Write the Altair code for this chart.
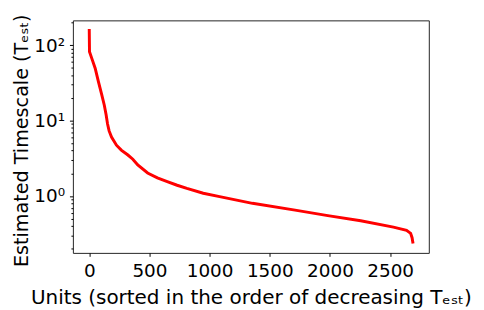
import altair as alt
import pandas as pd

# Units (sorted by decreasing estimated timescale) and the estimated timescale
units = [0, 2, 21, 49, 76, 103, 125, 140, 152, 165, 185, 226, 266, 321, 362,
         403, 485, 566, 648, 730, 811, 947, 1083, 1356, 1710, 1982, 2255, 2527,
         2636, 2670, 2682, 2688]
tscale = [157, 82, 67, 49.5, 33, 22.3, 16.0, 12.0, 9.0, 7.3, 6.05, 4.72, 4.06,
          3.50, 3.08, 2.59, 2.02, 1.74, 1.55, 1.39, 1.26, 1.09, 0.98, 0.80,
          0.65, 0.55, 0.47, 0.387, 0.35, 0.32, 0.28, 0.245]

x_ticks = [0, 500, 1000, 1500, 2000, 2500]
y_major = [1, 10, 100]
y_minor = [0.2, 0.3, 0.4, 0.5, 0.6, 0.7, 0.8, 0.9,
           2, 3, 4, 5, 6, 7, 8, 9,
           20, 30, 40, 50, 60, 70, 80, 90, 200]

df = pd.DataFrame({"unit": units, "T": tscale})

LFS = 18.7   # tick labels
TFS = 20.3   # x-axis title
YTFS = 19.5  # y-axis title
FONT = "DejaVu Sans"

chart = alt.Chart(df).mark_line(
    color="#ff0000", strokeWidth=3, strokeCap="square", clip=True
).encode(
    x=alt.X(
        "unit:Q",
        scale=alt.Scale(domain=[-136, 2821], nice=False, zero=False),
        axis=alt.Axis(
            values=x_ticks, format="d",
            title="Units (sorted in the order of decreasing Tₑₛₜ)",
            grid=False, domain=False,
            tickSize=3.5, tickColor="black", tickWidth=1,
            labelFontSize=LFS, labelFont=FONT, labelColor="black",
            labelBaseline="alphabetic", labelPadding=20.3,
            titleFontSize=TFS, titleFont=FONT, titleColor="black",
            titleFontWeight="normal",
            titleX=181, titleY=51.5, titleAlign="center",
            titleBaseline="alphabetic", titleAnchor="middle",
        ),
    ),
    y=alt.Y(
        "T:Q",
        scale=alt.Scale(type="log", domain=[0.176, 213.8], nice=False),
        axis=alt.Axis(
            values=sorted(y_major + y_minor),
            labelExpr="datum.value == 1 ? '10⁰' : datum.value == 10 ? '10¹' : datum.value == 100 ? '10²' : ''",
            title="Estimated Timescale (Tₑₛₜ)",
            grid=False, domain=False,
            tickSize={"condition": {"test": "datum.value == 1 || datum.value == 10 || datum.value == 100", "value": 3.5}, "value": 2},
            tickColor="black", tickWidth=1,
            labelFontSize=LFS, labelFont=FONT, labelColor="black",
            labelPadding=5,
            titleFontSize=YTFS, titleFont=FONT, titleColor="black",
            titleFontWeight="normal",
            titleAngle=270, titleX=-46.5, titleY=122,
            titleAlign="center", titleBaseline="alphabetic",
            titleAnchor="middle",
        ),
    ),
).properties(
    width=362,
    height=236.5,
    autosize=alt.AutoSizeParams(type="none"),
    padding={"left": 66, "top": 10, "right": 48, "bottom": 55.5},
).configure(
    font=FONT, background="white"
).configure_view(
    stroke="#222222", strokeWidth=1
)

chart.save("out.html", embed_options={"renderer": "svg", "actions": False})
